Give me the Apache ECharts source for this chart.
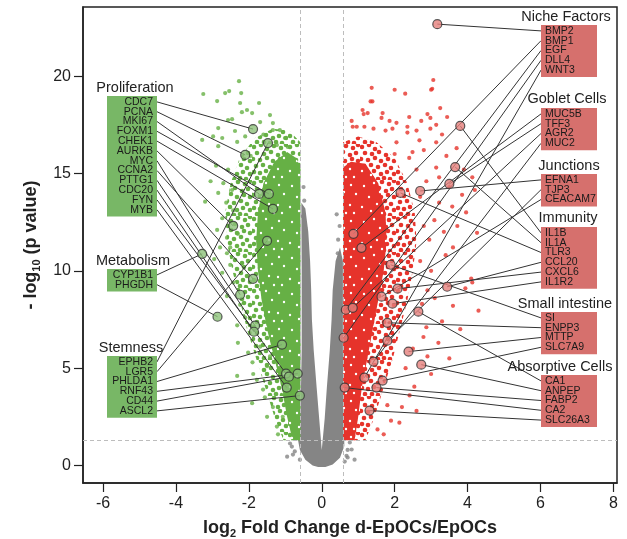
<!DOCTYPE html>
<html>
<head>
<meta charset="utf-8">
<script src="https://cdn.jsdelivr.net/npm/echarts@6/dist/echarts.min.js"></script>
<style>
html,body{margin:0;padding:0;background:#fff}
#main{width:627px;height:539px}
</style>
</head>
<body>
<div id="main"></div>
<script>
// axis ticks and thresholds
var xTicks = [-6, -4, -2, 0, 2, 4, 6, 8];
var yTicks = [0, 5, 10, 15, 20];
var fcCut = 0.585;   // log2(1.5)
var pCut = 1.3;      // -log10(0.05)

// highlighted genes: [name, log2FC, -log10 p]
var prolifGenes = [['CDC7',-1.885,17.28],['PCNA',-2.10,15.95],['MKI67',-1.72,13.95],['FOXM1',-1.45,13.95],
  ['CHEK1',-1.34,13.18],['AURKB',-2.43,12.31],['MYC',-2.24,8.77],['CCNA2',-1.885,9.59],['PTTG1',-1.83,7.18],
  ['CDC20',-1.86,6.87],['FYN',-0.98,4.72],['MYB',-0.96,4.0]];
var metabGenes = [['CYP1B1',-3.28,10.87],['PHGDH',-2.86,7.64]];
var stemGenes = [['EPHB2',-1.475,16.56],['LGR5',-1.50,11.54],['PHLDA1',-1.09,6.21],['RNF43',-0.66,4.72],
  ['CD44',-0.90,4.56],['ASCL2',-0.60,3.59]];
var nicheGenes = [['BMP2',3.17,22.67],['BMP1',0.87,11.9],['EGF',0.66,8.0],['DLL4',0.60,6.56],['WNT3',1.17,4.51]];
var gobletGenes = [['MUC5B',1.09,11.18],['TFF3',3.50,14.46],['AGR2',0.85,8.10],['MUC2',1.42,5.33]];
var junctionGenes = [['EFNA1',2.70,14.10],['TJP3',1.80,6.41],['CEACAM7',1.64,8.67]];
var immuneGenes = [['IL1B',3.80,17.44],['IL1A',3.66,15.33],['TLR3',2.16,14.0],['CCL20',3.44,9.18],
  ['CXCL6',2.08,9.08],['IL1R2',1.94,8.31]];
var smallIntGenes = [['SI',1.89,10.31],['ENPP3',1.80,7.33],['MTTP',2.38,5.85],['SLC7A9',1.67,4.36]];
var absorbGenes = [['CA1',2.65,7.90],['ANPEP',2.73,5.18],['FABP2',1.50,4.0],['CA2',0.63,4.0],['SLC26A3',1.31,2.82]];

// dense parts of the cloud, outlines
var grayCloud = [[-0.56,13.5],[-0.55,10],[-0.55,6],[-0.58,3],[-0.65,1.3],[-0.6,0.8],[-0.45,0.3],[-0.25,0.0],
  [-0.1,-0.08],[0.1,-0.08],[0.3,0.05],[0.5,0.4],[0.62,1.0],[0.6,3],[0.58,6],[0.58,10.5],[0.5,11.2],[0.38,10.5],
  [0.3,9],[0.27,7.5],[0.22,5.9],[0.14,4.0],[0.08,2.4],[0.0,0.8],[-0.07,2.4],[-0.14,4.0],[-0.22,5.9],[-0.27,7.5],
  [-0.29,9],[-0.32,10.5],[-0.37,12],[-0.45,13.2]];
var greenCore = [[-0.585,1.3],[-0.8,1.3],[-0.95,2.5],[-1.1,4],[-1.3,5.5],[-1.5,7],[-1.65,8.5],[-1.75,10],
  [-1.8,11.5],[-1.75,13],[-1.6,14.5],[-1.3,15.6],[-0.95,16.1],[-0.7,15.8],[-0.585,15.3]];
var greenHalo = [[-0.585,1.3],[-1.05,1.3],[-1.3,2.5],[-1.55,4],[-1.8,5.5],[-2.05,7],[-2.25,8.5],[-2.45,10],
  [-2.6,11.5],[-2.65,13],[-2.5,14.5],[-2.25,15.8],[-1.85,16.8],[-1.35,17.3],[-0.9,17.2],[-0.585,16.6]];
var redCore = [[0.585,1.3],[0.9,1.3],[1.0,2.5],[1.1,4],[1.25,5.5],[1.4,7],[1.55,8.5],[1.7,10],[1.78,11.5],
  [1.75,13],[1.55,14.5],[1.2,15.5],[0.8,15.6],[0.585,15.3]];
var redHalo = [[0.585,1.3],[1.2,1.3],[1.45,2.5],[1.7,4],[1.95,5.5],[2.15,7],[2.35,8.5],[2.5,10],[2.6,11.5],
  [2.55,13],[2.35,14.5],[2.0,15.8],[1.5,16.6],[1.0,16.9],[0.585,16.6]];

// loose points outside the dense parts
var grayPts = [[-0.52,12.8],[-0.48,13.6],[-0.5,14.3],[-0.45,12.2],[0.41,12.9],[0.49,12.3],[0.44,10.9],[0.45,11.6],
  [-0.79,0.56],[-0.74,0.72],[-0.87,1.13],[-0.6,0.3],[0.68,0.5],[0.71,0.8],[0.63,0.2],[0.77,1.18],[-0.82,0.97],
  [0.82,0.82],[0.71,0.41],[-0.95,0.45],[0.9,0.3]];
var greenPts = [[-2.27,19.74],[-3.25,19.08],[-2.65,19.13],[-2.54,19.23],[-2.21,19.13],[-2.87,18.72],[-2.24,18.62],
  [-1.72,18.62],[-2.05,18.26],[-2.19,18.15],[-1.91,18.10],[-1.42,18.0],[-2.57,17.74],[-2.46,17.79],[-1.69,17.64],
  [-1.34,17.59],[-2.84,17.33],[-2.38,17.18],[-1.34,17.23],[-1.15,17.23],[-3.28,16.72],[-2.73,16.82],[-2.32,16.62],
  [-1.01,16.82],[-1.23,16.46],[-0.93,16.36],[-2.98,16.9],[-3.2,13.55],[-2.87,12.1],[-2.79,11.2],[-2.84,16.4],
  [-2.57,15.2],[-2.7,14.5],[-2.62,13.5],[-2.46,14.15],[-2.84,14.0],[-2.43,13.1],[-2.73,12.7],[-2.6,11.7],
  [-2.3,11.9],[-2.51,11.2],[-2.6,10.9],[-2.51,10.3],[-2.73,9.9],[-2.43,9.4],[-2.6,8.7],[-2.24,8.25],[-2.1,7.6],
  [-2.32,7.2],[-1.97,6.8],[-2.02,5.8],[-1.69,6.1],[-2.32,4.6],[-1.78,4.4],[-1.56,3.5],[-1.91,3.2],[-1.34,3.0],
  [-1.07,2.5],[-1.61,3.9],[-1.5,5.1],[-1.42,5.6],[-1.88,4.7],[-1.5,2.5],[-1.23,2.0],[-1.2,1.6],[-1.95,15.9],
  [-2.1,16.9],[-1.6,17.0],[-2.9,15.4],[-3.05,14.6],[-2.95,10.6],[-2.3,6.3],[-1.9,5.3]];
var redPts = [[1.37,19.4],[2.0,19.3],[2.29,19.1],[3.06,19.8],[3.0,19.3],[3.03,19.35],[1.34,18.7],[1.39,18.7],
  [1.12,18.26],[1.26,18.1],[1.15,18.05],[1.67,18.1],[1.64,17.85],[3.25,18.36],[0.82,17.7],[0.85,17.4],[0.96,17.4],
  [2.40,17.9],[2.9,18.05],[2.98,17.85],[3.44,17.9],[1.86,17.7],[1.94,17.3],[2.35,17.4],[2.73,17.7],[3.14,17.5],
  [1.17,17.4],[1.42,17.3],[1.75,17.2],[2.6,17.2],[2.98,17.3],[2.05,17.6],[2.35,17.1],[2.68,16.7],[3.14,16.6],
  [2.05,16.6],[2.49,16.1],[3.14,15.3],[3.42,15.9],[3.9,15.2],[4.13,14.8],[2.6,15.2],[2.87,14.6],[3.22,14.8],
  [3.85,13.9],[4.2,14.15],[3.22,13.5],[3.58,13.3],[3.96,13.0],[3.09,12.6],[3.72,12.3],[4.26,11.95],[2.95,11.6],
  [4.1,9.6],[4.13,9.4],[4.3,7.95],[3.3,7.4],[3.94,9.1],[2.87,7.1],[2.79,6.6],[2.54,4.05],[2.41,3.6],[1.80,3.1],
  [1.53,1.85],[2.13,2.2],[2.7,10.5],[3.0,10.0],[2.9,9.0],[3.4,10.8],[3.6,11.2],[2.8,12.3],[3.35,12.0],[2.75,8.3],
  [3.1,8.6],[3.6,8.2],[2.5,6.0],[2.9,5.6],[3.2,6.3],[2.3,5.0],[3.0,4.7],[2.2,3.0],[2.6,2.8],[1.9,2.3],[1.7,1.6],
  [3.5,5.5],[3.8,7.0],[2.7,13.8],[3.5,14.3],[2.4,15.8],[2.0,16.0],[3.7,16.3],[2.8,16.2],[3.3,17.0]];

// label boxes (pixel layout)
var groups = [
  {title:'Proliferation', genes:prolifGenes, side:'L', titleY:88, top:96, tx:135},
  {title:'Metabolism', genes:metabGenes, side:'L', titleY:261, top:269, tx:133},
  {title:'Stemness', genes:stemGenes, side:'L', titleY:348, top:356, tx:131},
  {title:'Niche Factors', genes:nicheGenes, side:'R', titleY:17, top:25, tx:566},
  {title:'Goblet Cells', genes:gobletGenes, side:'R', titleY:99, top:108, tx:567},
  {title:'Junctions', genes:junctionGenes, side:'R', titleY:166, top:174, tx:569},
  {title:'Immunity', genes:immuneGenes, side:'R', titleY:218, top:227, tx:568},
  {title:'Small intestine', genes:smallIntGenes, side:'R', titleY:304, top:312, tx:565},
  {title:'Absorptive Cells', genes:absorbGenes, side:'R', titleY:367, top:375, tx:560}
];
var rowH = 9.8;
var boxL = {x0:107, x1:157}, boxR = {x0:541, x1:597};

var GREEN = '#66b045', GREEN_BOX = '#78b766', GREEN_HI = '#8dc27a';
var RED = '#e6332b', RED_BOX = '#d6706d', RED_HI = '#e5807c';
var GRAY = '#858585';

// speckle textures for the dense and half-dense parts of the clouds
var haloDots = [[2,3],[9,1],[15,5],[22,2],[29,4],[34,1],[5,9],[12,10],[19,8],[26,11],[32,9],
  [1,15],[8,16],[15,14],[21,17],[28,15],[34,17],[4,22],[11,21],[18,23],[25,21],[31,24],
  [2,28],[8,29],[14,27],[21,30],[27,28],[34,30],[5,34],[12,34],[18,35],[24,34],[30,35]];
var coreGaps = [[4,6],[14,3],[27,5],[20,12],[32,14],[9,17],[17,24],[2,27],[26,25],[11,31],[30,33],[22,33]];
function tile(dots, dotColor, r, bg) {
  var c = document.createElement('canvas');
  c.width = c.height = 36;
  var ctx = c.getContext('2d');
  if (bg) { ctx.fillStyle = bg; ctx.fillRect(0, 0, 36, 36); }
  ctx.fillStyle = dotColor;
  dots.forEach(function (d) { ctx.beginPath(); ctx.arc(d[0], d[1], r, 0, Math.PI * 2); ctx.fill(); });
  return {image:c, repeat:'repeat'};
}

var graphics = [];
var links = [];
groups.forEach(function (g) {
  var b = g.side === 'L' ? boxL : boxR;
  var n = g.genes.length;
  graphics.push({type:'rect', shape:{x:b.x0, y:g.top, width:b.x1 - b.x0, height:n * rowH + 3},
    style:{fill: g.side === 'L' ? GREEN_BOX : RED_BOX}, z:50});
  graphics.push({type:'text', z:50, style:{text:g.title, x:g.tx, y:g.titleY, align:'center', textAlign:'center',
    verticalAlign:'middle', textVerticalAlign:'middle', fill:'#222', font:'14.5px "Liberation Sans", Arial, sans-serif'}});
  g.genes.forEach(function (gene, i) {
    var ry = g.top + 1 + rowH * (i + 0.5);
    var isL = g.side === 'L';
    graphics.push({type:'text', z:50, style:{text:gene[0], x: isL ? b.x1 - 4 : b.x0 + 4, y:ry,
      align: isL ? 'right' : 'left', textAlign: isL ? 'right' : 'left', verticalAlign:'middle', textVerticalAlign:'middle',
      fill:'#1a1a1a', font:'10.5px "Liberation Sans", Arial, sans-serif'}});
    links.push([gene[1], gene[2], isL ? b.x1 : b.x0, ry]);
  });
});

function polySeries(pts, fill) {
  return {type:'custom', silent:true, z:2, data:[[0, 0]],
    renderItem: function (params, api) {
      return {type:'polygon', shape:{points: pts.map(function (p) { return api.coord(p); })},
        style:{fill:fill}};
    }};
}

function dots(data, color) {
  return {type:'scatter', silent:true, z:3, data:data, symbolSize:4.2, itemStyle:{color:color}};
}

function genePts(list) {
  var out = [];
  list.forEach(function (arr) { arr.forEach(function (g) { out.push([g[1], g[2]]); }); });
  return out;
}

var chart = echarts.init(document.getElementById('main'));
chart.setOption({
  animation:false,
  grid:{left:83, right:10, top:7, bottom:56, show:true, borderColor:'#222', borderWidth:1.5,
    containLabel:false, outerBoundsMode:'none'},
  xAxis:{type:'value', min:-6.55, max:8.1,
    splitLine:{show:false},
    axisLine:{onZero:false, lineStyle:{color:'#222', width:1.5}},
    axisTick:{customValues:xTicks, length:9, lineStyle:{color:'#222', width:1.2}},
    axisLabel:{customValues:xTicks, fontSize:16, color:'#222', margin:13, fontFamily:'Liberation Sans'},
    name:'{b|log}{s|2}{b| Fold Change d-EpOCs/EpOCs}', nameLocation:'middle', nameGap:36,
    nameTextStyle:{rich:{
      b:{fontSize:18, fontWeight:'bold', color:'#222', fontFamily:'Liberation Sans'},
      s:{fontSize:11, fontWeight:'bold', color:'#222', fontFamily:'Liberation Sans', verticalAlign:'bottom', padding:[0,0,-2,0]}}}
  },
  yAxis:{type:'value', min:-0.9, max:23.55,
    splitLine:{show:false},
    axisLine:{onZero:false, lineStyle:{color:'#222', width:1.5}},
    axisTick:{customValues:yTicks, length:9, lineStyle:{color:'#222', width:1.2}},
    axisLabel:{customValues:yTicks, fontSize:16, color:'#222', margin:12, fontFamily:'Liberation Sans'},
    name:'{b|- log}{s|10}{b| (p value)}', nameLocation:'middle', nameGap:33, nameRotate:90,
    nameTextStyle:{rich:{
      b:{fontSize:18, fontWeight:'bold', color:'#222', fontFamily:'Liberation Sans'},
      s:{fontSize:11, fontWeight:'bold', color:'#222', fontFamily:'Liberation Sans', verticalAlign:'bottom', padding:[0,0,-2,0]}}}
  },
  graphic:graphics,
  series:[
    {type:'scatter', data:[], z:1, silent:true,
      markLine:{silent:true, symbol:'none', label:{show:false},
        lineStyle:{type:[4,3], color:'#bdbdbd', width:1},
        data:[{xAxis:-fcCut}, {xAxis:fcCut}, {yAxis:pCut}]}},
    polySeries(grayCloud, GRAY),
    polySeries(greenHalo, tile(haloDots, GREEN, 2.3, null)),
    polySeries(greenCore, tile(coreGaps, '#ffffff', 1.2, GREEN)),
    polySeries(redHalo, tile(haloDots, RED, 2.3, null)),
    polySeries(redCore, tile(coreGaps, '#ffffff', 1.2, RED)),
    dots(grayPts, GRAY),
    dots(greenPts, GREEN),
    dots(redPts, RED),
    {type:'custom', silent:true, z:8, data:links,
      renderItem: function (params, api) {
        var p = api.coord([api.value(0), api.value(1)]);
        return {type:'line', shape:{x1:api.value(2), y1:api.value(3), x2:p[0], y2:p[1]},
          style:{stroke:'#333', lineWidth:1}};
      }},
    {type:'scatter', silent:true, z:10, symbolSize:9, data:genePts([prolifGenes, metabGenes, stemGenes]),
      itemStyle:{color:GREEN_HI, borderColor:'#333', borderWidth:1.2}},
    {type:'scatter', silent:true, z:10, symbolSize:9,
      data:genePts([nicheGenes, gobletGenes, junctionGenes, immuneGenes, smallIntGenes, absorbGenes]),
      itemStyle:{color:RED_HI, borderColor:'#333', borderWidth:1.2}}
  ]
});
</script>
</body>
</html>
